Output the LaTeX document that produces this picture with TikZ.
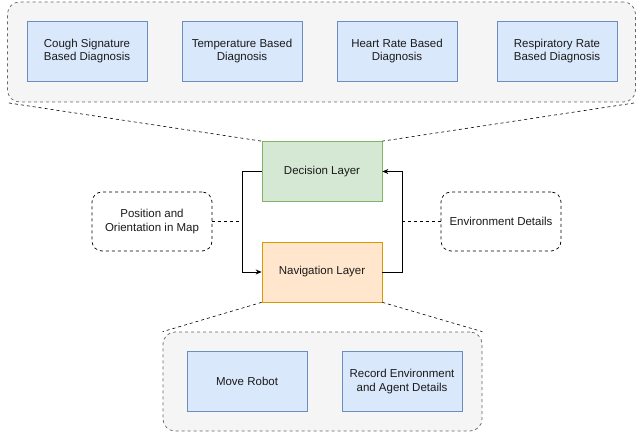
\documentclass[tikz,border=0pt]{standalone}
\usepackage{fontspec}
\setmainfont{Liberation Sans}
\usetikzlibrary{arrows.meta}
\definecolor{bfill}{HTML}{DAE8FC}
\definecolor{bline}{HTML}{6C8EBF}
\definecolor{gfill}{HTML}{D5E8D4}
\definecolor{gline}{HTML}{82B366}
\definecolor{ofill}{HTML}{FFE6CC}
\definecolor{oline}{HTML}{D79B00}
\definecolor{cfill}{HTML}{F5F5F5}
\definecolor{cline}{HTML}{666666}
\definecolor{txt}{HTML}{1A1A1A}
\begin{document}
\begin{tikzpicture}[x=1pt,y=-1pt,
  every node/.style={font=\fontsize{11.5}{13.5}\selectfont, text=txt, align=center, inner sep=0pt},
  container/.style={draw=cline, fill=cfill, dashed, rounded corners=12pt, line width=0.7pt},
  bluebox/.style={draw=bline, fill=bfill, minimum width=120pt, minimum height=60pt, line width=0.7pt},
  layerbox/.style={minimum width=120pt, minimum height=60pt, line width=0.7pt},
  infobox/.style={draw=black, fill=white, dashed, rounded corners=10pt, minimum width=120pt, minimum height=59pt, line width=0.7pt},
  guide/.style={draw=black, dashed, line width=0.6pt},
  flow/.style={draw=black, line width=0.8pt, -{Stealth[length=6pt,width=5pt]}}
]
\useasboundingbox (0,0) rectangle (637,435);
% top container
\node[container, minimum width=628pt, minimum height=100pt] (top) at (321.5,52) {};
\node[bluebox] (cough) at (87,51) {Cough Signature\\Based Diagnosis};
\node[bluebox] (temp) at (242,51) {Temperature Based\\Diagnosis};
\node[bluebox] (heart) at (397,51) {Heart Rate Based\\Diagnosis};
\node[bluebox] (resp) at (557,51) {Respiratory Rate\\Based Diagnosis};
% layers
\node[layerbox, draw=gline, fill=gfill] (dec) at (322,171.5) {Decision Layer};
\node[layerbox, draw=oline, fill=ofill] (nav) at (322,272) {Navigation Layer};
% info boxes
\node[infobox] (pos) at (152,221.5) {Position and\\Orientation in Map};
\node[infobox] (env) at (501,221.5) {Environment Details};
% bottom container
\node[container, minimum width=319pt, minimum height=99pt] (bot) at (322.5,381.5) {};
\node[bluebox] (move) at (247,381.5) {Move Robot};
\node[bluebox] (rec) at (402,381.5) {Record Environment\\and Agent Details};
% guides
\coordinate (tl) at (9,103);
\coordinate (tr) at (634,103);
\draw[guide] (tl) -- (dec.north west);
\draw[guide] (tr) -- (dec.north east);
\draw[guide] (nav.south west) -- (bot.north west);
\draw[guide] (nav.south east) -- (bot.north east);
% flows
\coordinate (lx) at (242,0);
\coordinate (rx) at (402,0);
\draw[flow] (dec.west) -| (lx |- nav.west) -- (nav.west);
\draw[flow] (nav.east) -| (rx |- dec.east) -- (dec.east);
\draw[guide] (pos.east) -- (lx |- pos.east);
\draw[guide] (env.west) -- (rx |- env.west);
\end{tikzpicture}
\end{document}
